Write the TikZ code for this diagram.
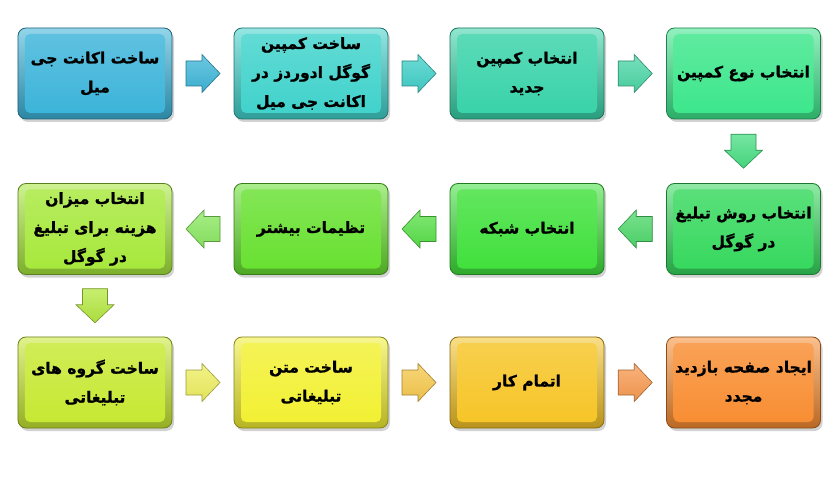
\documentclass[tikz,border=0pt]{standalone}
\usepackage{fontspec}
\newfontfamily\fa[Script=Arabic,BoldFeatures={FakeBold=1.2}]{DejaVu Sans}
\TeXXeTstate=1
\usetikzlibrary{shadows,calc}
\definecolor{c1}{HTML}{3AB3D9}
\definecolor{c2}{HTML}{3ED2CB}
\definecolor{c3}{HTML}{36D2A8}
\definecolor{c4}{HTML}{3AE68A}
\definecolor{c5}{HTML}{34D85C}
\definecolor{c6}{HTML}{3EE03A}
\definecolor{c7}{HTML}{66E02E}
\definecolor{c8}{HTML}{A6E83A}
\definecolor{c9}{HTML}{C6E830}
\definecolor{c10}{HTML}{F2F030}
\definecolor{c11}{HTML}{F6C424}
\definecolor{c12}{HTML}{F88C30}
\definecolor{ar1}{HTML}{3DB6D8}
\definecolor{ar2}{HTML}{3FCFC8}
\definecolor{ar3}{HTML}{4BD6A6}
\definecolor{ar4}{HTML}{48DE82}
\definecolor{ar5}{HTML}{4ED86A}
\definecolor{ar6}{HTML}{58E048}
\definecolor{ar7}{HTML}{8AE860}
\definecolor{ar8}{HTML}{B4E840}
\definecolor{ar9}{HTML}{EEEE60}
\definecolor{ar10}{HTML}{F6C84C}
\definecolor{ar11}{HTML}{F89A50}
\newcommand\rl[1]{\beginR #1\endR}
\tikzset{
  stepbox/.style={rounded corners=8bp, minimum width=154bp, minimum height=91bp,
    inner sep=0pt, draw=#1!55!black, line width=0.8bp,
    top color=#1!55!white, bottom color=#1!75!black,
    drop shadow={opacity=0.35,shadow xshift=2bp,shadow yshift=-3bp},
    path picture={\shade[rounded corners=5bp, top color=#1!80!white, bottom color=#1]
      ([xshift=7bp,yshift=-6bp]path picture bounding box.north west) rectangle
      ([xshift=-7bp,yshift=6bp]path picture bounding box.south east);},
    font=\fa\bfseries\fontsize{15.5bp}{29bp}\selectfont, align=center, text=black},
  pics/barrow/.style={code={
    \draw[line width=0.6bp, draw=#1!65!black, top color=#1!75!white, bottom color=#1!95!black]
      (-17,-12.5) -- (-1,-12.5) -- (-1,-19) -- (17,0) -- (-1,19) -- (-1,12.5) -- (-17,12.5) -- cycle;}}
}
\begin{document}
\begin{tikzpicture}[x=1bp,y=-1bp]
\fill[white] (0,0) rectangle (838,478);
\useasboundingbox (0,0) rectangle (838,478);
% row 1
\node[stepbox=c1] (b1) at (95,73.5) {\rl{ساخت اکانت جی}\\\rl{میل}};
\node[stepbox=c2] (b2) at (311,73.5) {\rl{ساخت کمپین}\\\rl{گوگل ادوردز در}\\\rl{اکانت جی میل}};
\node[stepbox=c3] (b3) at (527,73.5) {\rl{انتخاب کمپین}\\\rl{جدید}};
\node[stepbox=c4] (b4) at (743.5,73.5) {\rl{انتخاب نوع کمپین}};
% row 2
\node[stepbox=c5] (b5) at (743.5,229) {\rl{انتخاب روش تبلیغ}\\\rl{در گوگل}};
\node[stepbox=c6] (b6) at (527,229) {\rl{انتخاب شبکه}};
\node[stepbox=c7] (b7) at (311,229) {\rl{تظیمات بیشتر}};
\node[stepbox=c8] (b8) at (95,229) {\rl{انتخاب میزان}\\\rl{هزینه برای تبلیغ}\\\rl{در گوگل}};
% row 3
\node[stepbox=c9] (b9) at (95,382.5) {\rl{ساخت گروه های}\\\rl{تبلیغاتی}};
\node[stepbox=c10] (b10) at (311,382.5) {\rl{ساخت متن}\\\rl{تبلیغاتی}};
\node[stepbox=c11] (b11) at (527,382.5) {\rl{اتمام کار}};
\node[stepbox=c12] (b12) at (743.5,382.5) {\rl{ایجاد صفحه بازدید}\\\rl{مجدد}};
% arrow positions
\path (b1.east) -- (b2.west) coordinate[midway] (a1);
\path (b2.east) -- (b3.west) coordinate[midway] (a2);
\path (b3.east) -- (b4.west) coordinate[midway] (a3);
\path (b4.south) -- (b5.north) coordinate[midway] (a4);
\path (b5.west) -- (b6.east) coordinate[midway] (a5);
\path (b6.west) -- (b7.east) coordinate[midway] (a6);
\path (b7.west) -- (b8.east) coordinate[midway] (a7);
\path (b8.south) -- (b9.north) coordinate[midway] (a8);
\path (b9.east) -- (b10.west) coordinate[midway] (a9);
\path (b10.east) -- (b11.west) coordinate[midway] (a10);
\path (b11.east) -- (b12.west) coordinate[midway] (a11);
% arrows
\pic at (a1) {barrow=ar1};
\pic at (a2) {barrow=ar2};
\pic at (a3) {barrow=ar3};
\pic[rotate=-90] at (a4) {barrow=ar4};
\pic[rotate=180] at (a5) {barrow=ar5};
\pic[rotate=180] at (a6) {barrow=ar6};
\pic[rotate=180] at (a7) {barrow=ar7};
\pic[rotate=-90] at (a8) {barrow=ar8};
\pic at (a9) {barrow=ar9};
\pic at (a10) {barrow=ar10};
\pic at (a11) {barrow=ar11};
\end{tikzpicture}
\end{document}
